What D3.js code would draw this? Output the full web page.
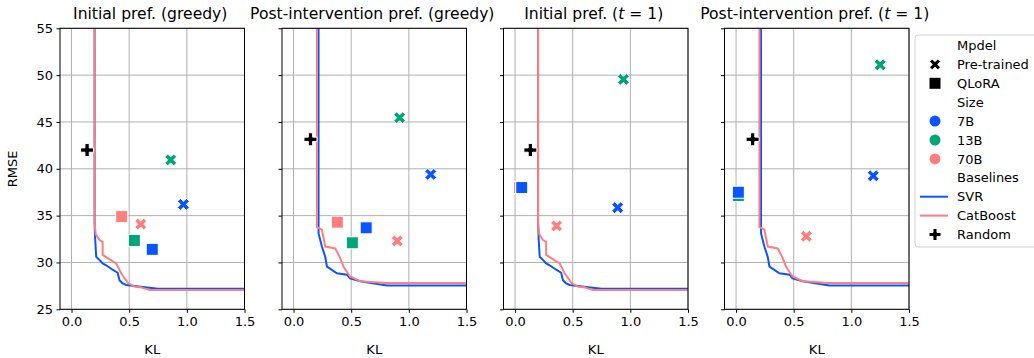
<!DOCTYPE html>
<html>
<head>
<meta charset="utf-8">
<script src="https://cdn.jsdelivr.net/npm/d3@7"></script>
<style>
  body { margin: 0; background: #fff; }
  svg { font-family: "DejaVu Sans", sans-serif; }
</style>
</head>
<body>
<svg id="chart"></svg>
<script>
// panel titles
var titles = ["Initial pref. (greedy)", "Post-intervention pref. (greedy)", "Initial pref. (|t| = 1)", "Post-intervention pref. (|t| = 1)"];
var sizes = ["7B", "13B", "70B"];
var sizeColors = ["#0a55ff", "#00a676", "#ff7f7f"];

// pre-trained models, per panel: [7B, 13B, 70B]
var pretrainedKL   = [[0.97, 0.86, 0.60], [1.19, 0.92, 0.90], [0.89, 0.94, 0.36], [1.19, 1.25, 0.61]];
var pretrainedRMSE = [[36.2, 40.95, 34.1], [39.4, 45.45, 32.3], [35.85, 49.55, 33.9], [39.25, 51.1, 32.8]];
// QLoRA models
var qloraKL   = [[0.70, 0.545, 0.435], [0.63, 0.51, 0.38], [0.058, 0.058, 0.039], [0.02, 0.02, 0.02]];
var qloraRMSE = [[31.4, 32.35, 34.9], [33.7, 32.1, 34.3], [38.0, 38.0, 38.0], [37.5, 37.15, 37.5]];
// random baseline
var randomKL   = [0.135, 0.147, 0.133, 0.144];
var randomRMSE = [42.0, 43.15, 42.0, 43.15];

// baseline frontiers (initial pref. / post-intervention pref.)
var svrInitKL   = [0.2, 0.2, 0.205, 0.214, 0.24, 0.27, 0.30, 0.36, 0.40, 0.416, 0.44, 0.474, 0.6, 0.75, 1.6];
var svrInitRMSE = [60, 34.2, 32.5, 30.6, 30.3, 29.9, 29.7, 29.2, 28.9, 28.1, 27.8, 27.6, 27.4, 27.2, 27.2];
var catInitKL   = [0.2, 0.2, 0.21, 0.243, 0.27, 0.27, 0.387, 0.43, 0.49, 0.55, 0.6, 0.676, 1.6];
var catInitRMSE = [60, 34.2, 33.0, 32.4, 32.2, 30.8, 29.9, 28.85, 27.8, 27.4, 27.35, 27.05, 27.05];
var svrPostKL   = [0.217, 0.217, 0.246, 0.275, 0.29, 0.376, 0.463, 0.49, 0.58, 0.7, 0.81, 1.6];
var svrPostRMSE = [60, 33.1, 31.7, 30.6, 29.55, 28.85, 28.7, 28.3, 28.0, 27.75, 27.55, 27.55];
var catPostKL   = [0.203, 0.203, 0.246, 0.275, 0.362, 0.40, 0.434, 0.49, 0.58, 0.8, 1.6];
var catPostRMSE = [60, 33.8, 33.5, 31.7, 31.5, 30.6, 29.55, 28.5, 28.0, 27.8, 27.8];

var xTicks = [0.0, 0.5, 1.0, 1.5];
var yTicks = [25, 30, 35, 40, 45, 50, 55];

var W = 1034, H = 358;
var panelLeft = [60, 282, 503.5, 724.5];
var pw = 184.5, plotTop = 28.3, ph = 281;

var svg = d3.select("#chart").attr("width", W).attr("height", H);

var x = d3.scaleLinear().domain([-0.1, 1.5]).range([0, pw]);
var y = d3.scaleLinear().domain([25, 55]).range([ph, 0]);

var xPath = "M-0.25,-0.5L0,-0.25L0.25,-0.5L0.5,-0.25L0.25,0L0.5,0.25L0.25,0.5L0,0.25L-0.25,0.5L-0.5,0.25L-0.25,0L-0.5,-0.25Z";
var pPath = "M-0.5,-0.1667L-0.1667,-0.1667L-0.1667,-0.5L0.1667,-0.5L0.1667,-0.1667L0.5,-0.1667L0.5,0.1667L0.1667,0.1667L0.1667,0.5L-0.1667,0.5L-0.1667,0.1667L-0.5,0.1667Z";

function marker(g, path, cx, cy, s, color) {
  g.append("path")
    .attr("d", path)
    .attr("transform", "translate(" + cx + "," + cy + ") scale(" + s + ")")
    .attr("fill", color)
    .attr("stroke", "#fff")
    .attr("stroke-width", 1 / s);
}

function zip(a, b) { return a.map((v, i) => [v, b[i]]); }

var line = d3.line().x(d => x(d[0])).y(d => y(d[1]));

titles.forEach(function (title, p) {
  var g = svg.append("g").attr("transform", "translate(" + panelLeft[p] + "," + plotTop + ")");

  g.append("clipPath").attr("id", "clip" + p)
    .append("rect").attr("width", pw).attr("height", ph);

  // grid
  g.selectAll(".gx").data(xTicks).enter().append("line")
    .attr("x1", d => x(d)).attr("x2", d => x(d)).attr("y1", 0).attr("y2", ph)
    .attr("stroke", "#b0b0b0").attr("stroke-width", 1);
  g.selectAll(".gy").data(yTicks).enter().append("line")
    .attr("y1", d => y(d)).attr("y2", d => y(d)).attr("x1", 0).attr("x2", pw)
    .attr("stroke", "#b0b0b0").attr("stroke-width", 1);

  var post = p % 2 == 1;
  var plot = g.append("g").attr("clip-path", "url(#clip" + p + ")");
  plot.append("path")
    .datum(post ? zip(svrPostKL, svrPostRMSE) : zip(svrInitKL, svrInitRMSE))
    .attr("d", line).attr("fill", "none").attr("stroke", sizeColors[0]).attr("stroke-width", 2);
  plot.append("path")
    .datum(post ? zip(catPostKL, catPostRMSE) : zip(catInitKL, catInitRMSE))
    .attr("d", line).attr("fill", "none").attr("stroke", sizeColors[2]).attr("stroke-width", 2);

  // random
  marker(plot, pPath, x(randomKL[p]), y(randomRMSE[p]), 13, "#000");

  // QLoRA squares, 70B first
  [2, 1, 0].forEach(function (k) {
    plot.append("rect")
      .attr("x", x(qloraKL[p][k]) - 6).attr("y", y(qloraRMSE[p][k]) - 6)
      .attr("width", 12).attr("height", 12)
      .attr("fill", sizeColors[k]).attr("stroke", "#fff").attr("stroke-width", 1);
  });
  // pre-trained X
  [0, 1, 2].forEach(function (k) {
    marker(plot, xPath, x(pretrainedKL[p][k]), y(pretrainedRMSE[p][k]), 12, sizeColors[k]);
  });

  // axes
  var xa = g.append("g").attr("transform", "translate(0," + ph + ")")
    .call(d3.axisBottom(x).tickValues(xTicks).tickFormat(d3.format(".1f")).tickSize(3.5).tickPadding(4));
  var ya = g.append("g")
    .call(d3.axisLeft(y).tickValues(yTicks).tickSize(3.5).tickPadding(3.5).tickFormat(p == 0 ? d3.format("d") : ""));
  [xa, ya].forEach(function (a) {
    a.select(".domain").remove();
    a.selectAll("text").attr("font-size", 13).attr("font-family", "DejaVu Sans").attr("fill", "#000");
    a.selectAll("line").attr("stroke", "#000");
  });

  g.append("rect").attr("width", pw).attr("height", ph)
    .attr("fill", "none").attr("stroke", "#000").attr("stroke-width", 1);

  // title
  var parts = title.split("|");
  var t = g.append("text").attr("x", pw / 2 - 2).attr("y", -9)
    .attr("text-anchor", "middle").attr("font-size", 15.6);
  t.append("tspan").text(parts[0]);
  if (parts.length > 1) {
    t.append("tspan").attr("font-style", "italic").text(parts[1]);
    t.append("tspan").text(parts[2]);
  }

  g.append("text").attr("x", pw / 2).attr("y", ph + 45)
    .attr("text-anchor", "middle").attr("font-size", 13).text("KL");
});

svg.append("text")
  .attr("transform", "translate(17," + (plotTop + ph / 2) + ") rotate(-90)")
  .attr("text-anchor", "middle").attr("font-size", 13).text("RMSE");

// legend
var lg = svg.append("g");
lg.append("rect").attr("x", 915).attr("y", 35).attr("width", 140).attr("height", 212)
  .attr("rx", 3).attr("fill", "#fff").attr("stroke", "#d0d0d0").attr("stroke-width", 1);

var legendItems = [
  { label: "Mpdel", type: "head" },
  { label: "Pre-trained", type: "x", color: "#000" },
  { label: "QLoRA", type: "sq", color: "#000" },
  { label: "Size", type: "head" },
  { label: sizes[0], type: "dot", color: sizeColors[0] },
  { label: sizes[1], type: "dot", color: sizeColors[1] },
  { label: sizes[2], type: "dot", color: sizeColors[2] },
  { label: "Baselines", type: "head" },
  { label: "SVR", type: "line", color: sizeColors[0] },
  { label: "CatBoost", type: "line", color: sizeColors[2] },
  { label: "Random", type: "plus", color: "#000" }
];

legendItems.forEach(function (d, i) {
  var cy = 45.5 + i * 18.9;
  var hx = 935;
  if (d.type == "x") marker(lg, xPath, hx, cy, 11, d.color);
  if (d.type == "plus") marker(lg, pPath, hx, cy, 12, d.color);
  if (d.type == "sq") lg.append("rect").attr("x", hx - 5.5).attr("y", cy - 5.5).attr("width", 11).attr("height", 11).attr("fill", d.color);
  if (d.type == "dot") lg.append("circle").attr("cx", hx).attr("cy", cy).attr("r", 5.5).attr("fill", d.color);
  if (d.type == "line") lg.append("line").attr("x1", 920).attr("x2", 948).attr("y1", cy).attr("y2", cy)
    .attr("stroke", d.color).attr("stroke-width", 2);
  lg.append("text").attr("x", 957).attr("y", cy).attr("dy", "0.36em")
    .attr("font-size", 13).text(d.label);
});
</script>
</body>
</html>
